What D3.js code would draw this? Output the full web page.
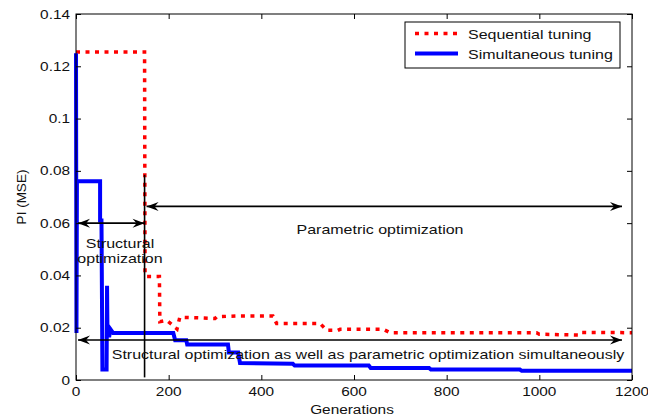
<!DOCTYPE html>
<html>
<head>
<meta charset="utf-8">
<script src="https://cdn.jsdelivr.net/npm/d3@7"></script>
<style>
  body { margin: 0; background: #fff; }
  svg text { font-family: "Liberation Sans", Arial, sans-serif; fill: #111; }
</style>
</head>
<body>
<svg id="chart" width="648" height="419"></svg>
<script>
// step curves (generation, PI)
var seqGen = [0, 148, 149, 152, 180, 181, 196, 212, 218, 224, 260, 300, 304, 347, 425, 433, 527, 541, 565, 570, 663, 678, 994, 1000, 1085, 1090, 1200];
var seqPI  = [0.1255, 0.1255, 0.040, 0.0396, 0.0396, 0.0223, 0.0228, 0.0205, 0.0195, 0.0240, 0.0238, 0.0235, 0.0242, 0.0245, 0.0245, 0.0216, 0.0216, 0.0190, 0.0190, 0.0194, 0.0194, 0.0181, 0.0181, 0.0175, 0.0172, 0.0182, 0.0181];

var simGen = [0, 1, 2, 52, 52, 55, 57, 66, 67, 68, 72, 74, 80, 210, 214, 238, 240, 328, 330, 350, 354, 468, 472, 632, 636, 762, 766, 958, 962, 1200];
var simPI  = [0.125, 0.018, 0.076, 0.076, 0.061, 0.061, 0.004, 0.004, 0.036, 0.017, 0.017, 0.0195, 0.018, 0.018, 0.0152, 0.0152, 0.0136, 0.0136, 0.0105, 0.0105, 0.0065, 0.0062, 0.0055, 0.0055, 0.0046, 0.0046, 0.0040, 0.0040, 0.0035, 0.0035];

var xTicks = [0, 200, 400, 600, 800, 1000, 1200];
var yTicks = [0, 0.02, 0.04, 0.06, 0.08, 0.1, 0.12, 0.14];

var seriesNames = ['Sequential tuning', 'Simultaneous tuning'];

// annotation arrows [x0, x1, y] in data units
var arrows = [
    [0, 148, 0.060],
    [148, 1200, 0.0664],
    [0, 1200, 0.0153]
];

var svg = d3.select('#chart'),
    // the source figure is stretched sideways, so its text is too
    stretch = 1.23,
    pLeft = 76, pRight = 632, pTop = 14, pBottom = 380,
    x = d3.scaleLinear().domain([0, 1200]).range([pLeft, pRight]),
    y = d3.scaleLinear().domain([0, 0.14]).range([pBottom, pTop]);

function pts(xs, ys) {
    return xs.map(function (d, i) { return [d, ys[i]]; });
}

function label(px, py, txt, anchor, size) {
    return svg.append('text')
        .attr('transform', 'translate(' + px + ',' + py + ') scale(' + stretch + ',1)')
        .attr('text-anchor', anchor)
        .attr('font-size', size)
        .text(txt);
}

var line = d3.line()
    .x(function (d) { return x(d[0]); })
    .y(function (d) { return y(d[1]); });

// arrowhead
svg.append('defs').append('marker')
    .attr('id', 'head')
    .attr('viewBox', '-13 -6 14 12')
    .attr('refX', 0).attr('refY', 0)
    .attr('markerWidth', 14).attr('markerHeight', 12)
    .attr('markerUnits', 'userSpaceOnUse')
    .attr('orient', 'auto-start-reverse')
    .append('path')
    .attr('d', 'M0,0 L-12,-4.5 L-8,0 L-12,4.5 Z')
    .attr('fill', '#000');

// series
svg.append('path')
    .attr('d', line(pts(seqGen, seqPI)))
    .attr('fill', 'none')
    .attr('stroke', '#ff0000')
    .attr('stroke-width', 3.5)
    .attr('stroke-dasharray', '4,5.5');

svg.append('path')
    .attr('d', line(pts(simGen, simPI)))
    .attr('fill', 'none')
    .attr('stroke', '#0000ff')
    .attr('stroke-width', 4);

// vertical separator
svg.append('line')
    .attr('x1', x(148)).attr('x2', x(148))
    .attr('y1', y(0.0785)).attr('y2', y(0.001))
    .attr('stroke', '#000').attr('stroke-width', 1.6);

// arrows
arrows.forEach(function (a) {
    var pad = a[1] === 1200 ? -10 : 0;
    svg.append('line')
        .attr('x1', x(a[0]) + 2).attr('x2', x(a[1]) + pad)
        .attr('y1', y(a[2])).attr('y2', y(a[2]))
        .attr('stroke', '#000').attr('stroke-width', 1.6)
        .attr('marker-start', 'url(#head)')
        .attr('marker-end', 'url(#head)');
});

// annotation texts
label(120, 248, 'Structural', 'middle', 13);
label(120, 263, 'optimization', 'middle', 13);
label(380, 234, 'Parametric optimization', 'middle', 13);
label(368, 359, 'Structural optimization as well as parametric optimization simultaneously', 'middle', 13);

// box + inward ticks on all four sides, MATLAB style
svg.append('rect')
    .attr('x', pLeft).attr('y', pTop)
    .attr('width', pRight - pLeft).attr('height', pBottom - pTop)
    .attr('fill', 'none').attr('stroke', '#000').attr('stroke-width', 1);

var axes = [
    svg.append('g').attr('transform', 'translate(0,' + pBottom + ')')
        .call(d3.axisBottom(x).tickValues(xTicks).tickSize(-5).tickFormat('')),
    svg.append('g').attr('transform', 'translate(0,' + pTop + ')')
        .call(d3.axisTop(x).tickValues(xTicks).tickSize(-5).tickFormat('')),
    svg.append('g').attr('transform', 'translate(' + pLeft + ',0)')
        .call(d3.axisLeft(y).tickValues(yTicks).tickSize(-5).tickFormat('')),
    svg.append('g').attr('transform', 'translate(' + pRight + ',0)')
        .call(d3.axisRight(y).tickValues(yTicks).tickSize(-5).tickFormat(''))
];
axes.forEach(function (g) {
    g.select('.domain').remove();
    g.selectAll('text').remove();
    g.selectAll('line').attr('stroke', '#000');
});

xTicks.forEach(function (t) {
    label(x(t), 395.5, String(t), 'middle', 12.5);
});
yTicks.forEach(function (t) {
    label(pLeft - 6, y(t) + 4.5, t === 0 ? '0' : String(+t.toFixed(2)), 'end', 12.5);
});

label(352, 414, 'Generations', 'middle', 12.5);
svg.append('text')
    .attr('transform', 'translate(26,' + y(0.07) + ') rotate(-90)')
    .attr('text-anchor', 'middle').attr('font-size', 13.5).text('PI (MSE)');

// legend
var lg = svg.append('g').attr('transform', 'translate(405,22)');
lg.append('rect').attr('width', 215).attr('height', 46)
    .attr('fill', '#fff').attr('stroke', '#000').attr('stroke-width', 1);
lg.append('line').attr('x1', 10).attr('x2', 53).attr('y1', 11.5).attr('y2', 11.5)
    .attr('stroke', '#ff0000').attr('stroke-width', 3.5).attr('stroke-dasharray', '4,5.5');
lg.append('line').attr('x1', 10).attr('x2', 53).attr('y1', 31.5).attr('y2', 31.5)
    .attr('stroke', '#0000ff').attr('stroke-width', 4);
seriesNames.forEach(function (d, i) {
    label(405 + 63, 22 + 16.5 + i * 20.5, d, 'start', 13);
});
</script>
</body>
</html>
